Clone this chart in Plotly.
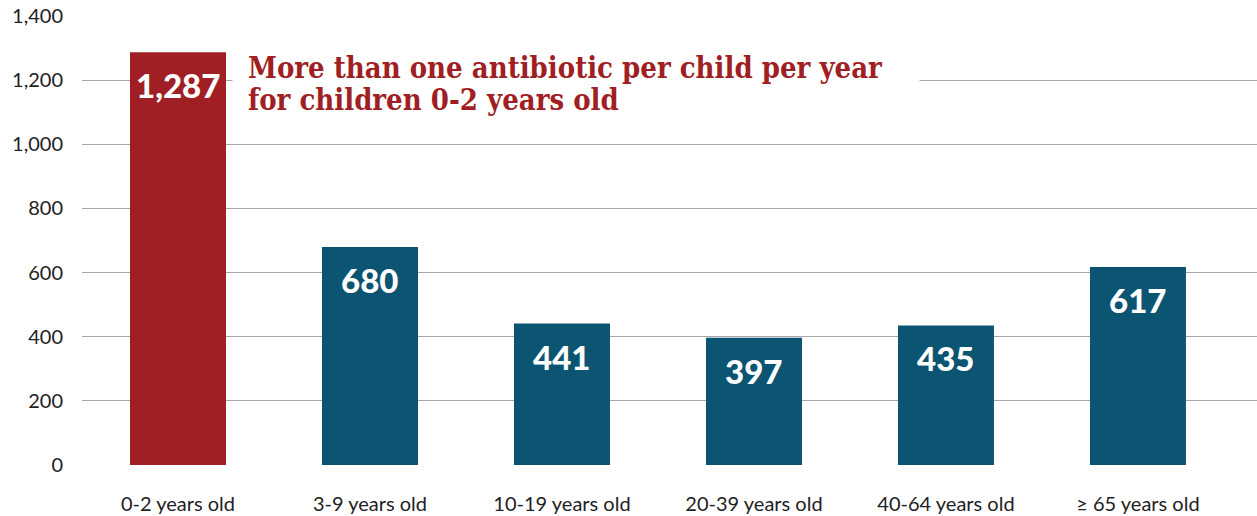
import plotly.graph_objects as go

categories = ["0-2 years old", "3-9 years old", "10-19 years old", "20-39 years old", "40-64 years old", "≥ 65 years old"]
values = [1287, 680, 441, 397, 435, 617]
bar_colors = ["#A01F24", "#0B5472", "#0B5472", "#0B5472", "#0B5472", "#0B5472"]
value_labels = ["1,287", "680", "441", "397", "435", "617"]
y_ticks = [0, 200, 400, 600, 800, 1000, 1200, 1400]
y_tick_text = ["0", "200", "400", "600", "800", "1,000", "1,200", "1,400"]
callout_lines = ["More than one antibiotic per child per year", "for children 0-2 years old"]

fig = go.Figure()
fig.add_trace(go.Bar(
    x=categories, y=values, marker=dict(color=bar_colors, line=dict(width=0)),
    width=0.5, hoverinfo="skip",
))

for c, v, t in zip(categories, values, value_labels):
    fig.add_annotation(x=c, y=v, text=t, showarrow=False, yanchor="middle",
                       yshift=-33, font=dict(family="Lato", size=33, color="white", weight=900))

callout_font = dict(family="DejaVu Serif Condensed, DejaVu Serif", size=29, color="#A01F24", weight="bold")
fig.add_annotation(xref="paper", yref="y", x=(232 - 82) / 1175, y=1238, xanchor="left", yanchor="middle",
                   text=callout_lines[0], showarrow=False, align="left", bgcolor="white",
                   width=656, borderpad=15, font=callout_font)
fig.add_annotation(xref="paper", yref="y", x=(232 - 82) / 1175, y=1138, xanchor="left", yanchor="middle",
                   text=callout_lines[1], showarrow=False, align="left",
                   width=656, borderpad=15, font=callout_font)

fig.update_layout(
    width=1257, height=516, margin=dict(l=82, r=0, t=16, b=51),
    plot_bgcolor="white", paper_bgcolor="white", showlegend=False,
    xaxis=dict(range=[-0.5, 5.62], showgrid=False, showline=False, zeroline=False,
               tickfont=dict(family="Lato", size=20, color="#222"), ticklabelstandoff=25, ticks=""),
    yaxis=dict(range=[0, 1400], tickvals=y_ticks, ticktext=y_tick_text, showgrid=True,
               gridcolor="#A6A6A6", gridwidth=1.3, zeroline=False, showline=False,
               tickfont=dict(family="Lato", size=20, color="#222"), ticklabelstandoff=18, ticks=""),
)
fig.write_html("out.html")
